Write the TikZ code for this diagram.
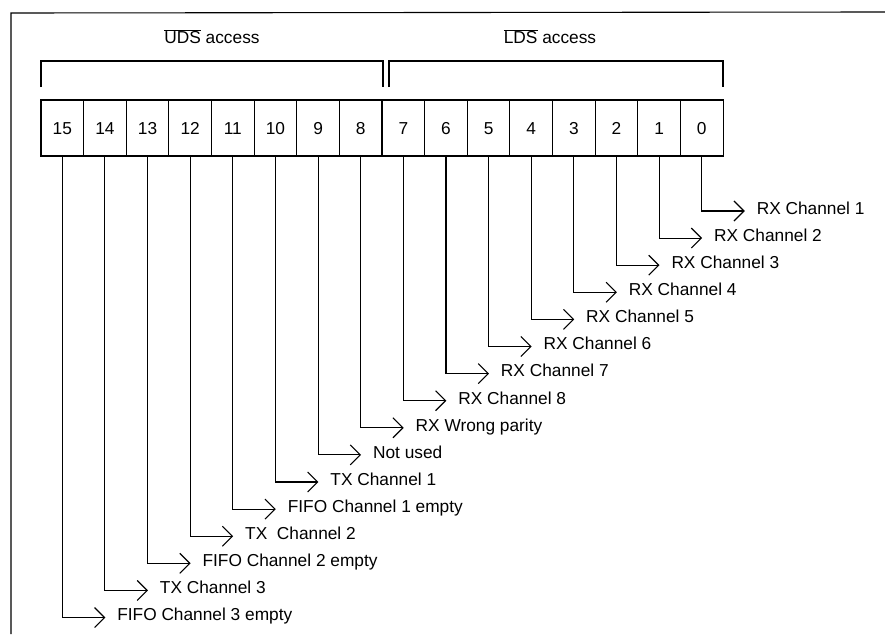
\documentclass[tikz,border=0pt]{standalone}
\usepackage{fontspec}
\setmainfont{Liberation Sans}
\usetikzlibrary{arrows.meta, positioning}

\begin{document}
\begin{tikzpicture}[
    x=1pt, y=-1pt,
    line width=1.1pt,
    font=\fontsize{17.3}{20}\selectfont,
    cell/.style={rectangle, draw, minimum width=42.6pt, minimum height=56pt, inner sep=0pt, text height=12.4pt, text depth=0pt},
    bitlabel/.style={anchor=west, inner sep=0pt, outer xsep=12pt, text height=1.5ex, text depth=.25ex},
    arrow/.style={-{Straight Barb[length=10pt, width=20pt]}}
]
    \useasboundingbox (0,0) rectangle (885,634);
    % frame
    \draw (11,634) -- (11,13) -- (885,12);

    % register bits and their meaning
    \foreach \b/\txt [count=\i from 0] in {15/FIFO Channel 3 empty, 14/TX Channel 3,
        13/FIFO Channel 2 empty, 12/TX\ \ Channel 2, 11/FIFO Channel 1 empty,
        10/TX Channel 1, 9/Not used, 8/RX Wrong parity, 7/RX Channel 8,
        6/RX Channel 7, 5/RX Channel 6, 4/RX Channel 5, 3/RX Channel 4,
        2/RX Channel 3, 1/RX Channel 2, 0/RX Channel 1}{
        \node[cell] (bit\b) at ({41+42.63*\i+21.3}, 128) {\b};
        \node[bitlabel] (lab\b) at ({41+42.63*\i+21.3+43}, {211+27.1*\b}) {\txt};
        \draw[arrow] (bit\b.south) |- (lab\b.west);
    }

    % byte access brackets
    \draw (41,87) |- (383,61) -- (383,87);
    \draw (389,87) |- (723,61) -- (723,87);
    \node (uds) at (212,37) {$\overline{\mbox{UDS}}$ access};
    \node (lds) at (550,37) {$\overline{\mbox{LDS}}$ access};
\end{tikzpicture}
\end{document}
